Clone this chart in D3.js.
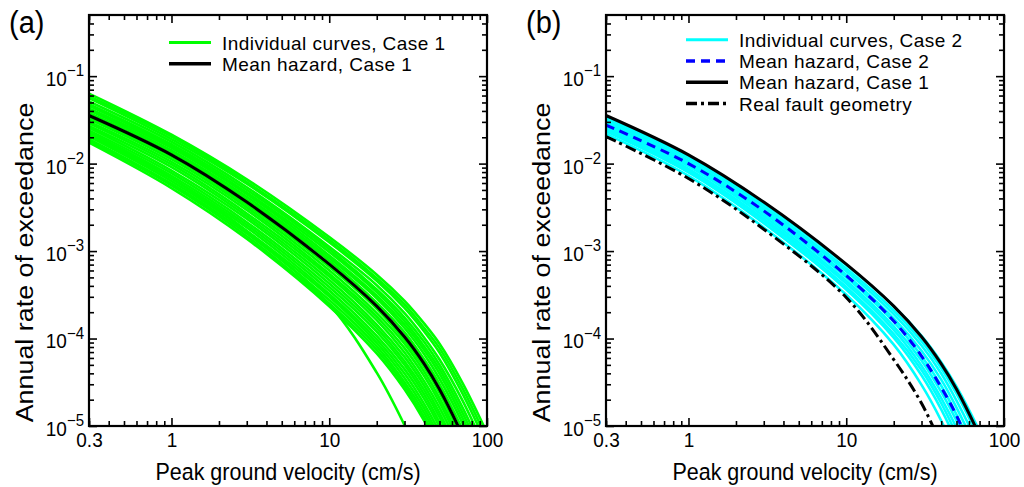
<!DOCTYPE html>
<html>
<head>
<meta charset="utf-8">
<script src="https://cdn.jsdelivr.net/npm/d3@7"></script>
<style>
body { margin: 0; background: #fff; }
text { font-family: "Liberation Sans", Arial, Helvetica, sans-serif; fill: #000; }
</style>
</head>
<body>
<svg id="chart" width="1024" height="487"></svg>
<script>
const pgv = [0.3, 1, 3, 10, 20, 30, 40, 50, 70, 100];

// all hazard values below are log10 of the annual rate of exceedance
const meanCase1 = [-1.45, -1.90, -2.44, -3.15, -3.63, -3.98, -4.29, -4.58, -5.11, -5.76];
const meanCase2 = [-1.56, -2.00, -2.54, -3.28, -3.80, -4.20, -4.56, -4.88, -5.51, -6.24];
const realFault = [-1.69, -2.17, -2.75, -3.53, -4.24, -4.74, -5.22, -5.66, -6.50, -7.50];

const curvesCase1 = [
	[-1.20, -1.67, -2.18, -2.84, -3.27, -3.57, -3.83, -4.06, -4.51, -5.08],
	[-1.23, -1.69, -2.21, -2.87, -3.31, -3.61, -3.88, -4.11, -4.57, -5.15],
	[-1.25, -1.72, -2.23, -2.90, -3.34, -3.65, -3.92, -4.16, -4.63, -5.22],
	[-1.29, -1.75, -2.27, -2.95, -3.39, -3.71, -3.99, -4.24, -4.71, -5.31],
	[-1.32, -1.78, -2.30, -2.98, -3.44, -3.76, -4.04, -4.30, -4.79, -5.39],
	[-1.34, -1.80, -2.33, -3.01, -3.47, -3.80, -4.09, -4.35, -4.85, -5.46],
	[-1.37, -1.82, -2.35, -3.05, -3.51, -3.84, -4.13, -4.40, -4.91, -5.53],
	[-1.39, -1.85, -2.38, -3.08, -3.54, -3.88, -4.18, -4.46, -4.97, -5.60],
	[-1.42, -1.87, -2.41, -3.11, -3.59, -3.93, -4.24, -4.52, -5.04, -5.68],
	[-1.47, -1.92, -2.47, -3.18, -3.66, -4.02, -4.33, -4.62, -5.16, -5.81],
	[-1.49, -1.95, -2.50, -3.22, -3.71, -4.06, -4.38, -4.68, -5.22, -5.88],
	[-1.52, -1.98, -2.53, -3.26, -3.75, -4.11, -4.43, -4.73, -5.28, -5.95],
	[-1.54, -2.01, -2.57, -3.29, -3.79, -4.16, -4.49, -4.79, -5.34, -6.02],
	[-1.57, -2.04, -2.60, -3.33, -3.84, -4.21, -4.54, -4.85, -5.41, -6.09],
	[-1.59, -2.08, -2.63, -3.37, -3.88, -4.26, -4.59, -4.90, -5.47, -6.16],
	[-1.62, -2.11, -2.67, -3.41, -3.92, -4.30, -4.64, -4.96, -5.53, -6.22],
	[-1.64, -2.14, -2.70, -3.45, -3.97, -4.35, -4.69, -5.01, -5.59, -6.29],
	[-1.67, -2.17, -2.73, -3.49, -4.01, -4.40, -4.75, -5.07, -5.66, -6.36],
	[-1.69, -2.20, -2.77, -3.52, -4.05, -4.45, -4.80, -5.13, -5.72, -6.43],
	[-1.72, -2.23, -2.80, -3.56, -4.09, -4.50, -4.85, -5.18, -5.78, -6.50],
	[-1.74, -2.25, -2.83, -3.60, -4.13, -4.54, -4.90, -5.23, -5.84, -6.56],
	[-1.76, -2.28, -2.86, -3.63, -4.17, -4.58, -4.94, -5.28, -5.89, -6.62],
	[-1.65, -2.17, -2.77, -3.61, -4.39, -4.99, -5.49, -5.93, -6.60, -7.40]
];

const curvesCase2 = [
	[-1.47, -1.92, -2.46, -3.16, -3.63, -3.97, -4.27, -4.55, -5.06, -5.69],
	[-1.49, -1.94, -2.49, -3.20, -3.68, -4.03, -4.34, -4.63, -5.16, -5.81],
	[-1.51, -1.97, -2.52, -3.23, -3.72, -4.08, -4.40, -4.71, -5.25, -5.92],
	[-1.53, -1.99, -2.54, -3.27, -3.77, -4.14, -4.47, -4.79, -5.35, -6.04],
	[-1.55, -2.01, -2.57, -3.30, -3.81, -4.20, -4.54, -4.87, -5.45, -6.15],
	[-1.57, -2.03, -2.60, -3.34, -3.86, -4.25, -4.61, -4.94, -5.54, -6.27],
	[-1.59, -2.06, -2.63, -3.37, -3.90, -4.31, -4.68, -5.02, -5.64, -6.38],
	[-1.61, -2.08, -2.65, -3.41, -3.95, -4.36, -4.74, -5.10, -5.73, -6.50],
	[-1.63, -2.10, -2.68, -3.44, -3.99, -4.42, -4.81, -5.18, -5.83, -6.61],
	[-1.66, -2.14, -2.73, -3.50, -4.07, -4.53, -4.94, -5.33, -6.01, -6.81]
];

const xTicks = [0.3, 1, 10, 100];
const yTicks = [1e-1, 1e-2, 1e-3, 1e-4, 1e-5];

// text in the figure is a bit taller than it is wide
const S = 1.1;
const W = 398, H = 411, TOP = 15;

let svg = d3.select("#chart");

let x = d3.scaleLog().domain([0.3, 100]).range([0, W]);
let y = d3.scaleLog().domain([1e-5, 0.5]).range([H, 0]);

// minor ticks of the log axes
let xMinor = [], yMinor = [];
[0.1, 1, 10].forEach(d => d3.range(2, 10).forEach(m => {
	let v = m * d;
	if (v > 0.3 && v < 100) xMinor.push(v);
}));
[1e-5, 1e-4, 1e-3, 1e-2, 1e-1].forEach(d => d3.range(2, 10).forEach(m => {
	let v = m * d;
	if (v < 0.5) yMinor.push(v);
}));

let line = d3.line()
	.x((d, i) => x(pgv[i]))
	.y(d => y(Math.pow(10, d)))
	.curve(d3.curveCatmullRom.alpha(0.5));

function axes(g) {
	let major = 8, minor = 5;
	let gb = g.append("g").attr("transform", `translate(0,${H})`)
		.call(d3.axisBottom(x).tickValues(xTicks).tickFormat(d3.format("")).tickSize(-major).tickSizeOuter(0).tickPadding(6));
	g.append("g").attr("transform", `translate(0,${H})`)
		.call(d3.axisBottom(x).tickValues(xMinor).tickFormat("").tickSize(-minor).tickSizeOuter(0));
	g.append("g")
		.call(d3.axisTop(x).tickValues(xTicks).tickFormat("").tickSize(-major).tickSizeOuter(0));
	g.append("g")
		.call(d3.axisTop(x).tickValues(xMinor).tickFormat("").tickSize(-minor).tickSizeOuter(0));

	let gl = g.append("g")
		.call(d3.axisLeft(y).tickValues(yTicks).tickFormat("").tickSize(-major).tickSizeOuter(0).tickPadding(5));
	g.append("g")
		.call(d3.axisLeft(y).tickValues(yMinor).tickFormat("").tickSize(-minor).tickSizeOuter(0));
	g.append("g").attr("transform", `translate(${W},0)`)
		.call(d3.axisRight(y).tickValues(yTicks).tickFormat("").tickSize(-major).tickSizeOuter(0));
	g.append("g").attr("transform", `translate(${W},0)`)
		.call(d3.axisRight(y).tickValues(yMinor).tickFormat("").tickSize(-minor).tickSizeOuter(0));

	g.selectAll(".domain").remove();
	g.selectAll(".tick line").attr("stroke", "#000").attr("stroke-width", 1.6);

	gb.selectAll(".tick text")
		.attr("font-size", 19)
		.attr("fill", "#000")
		.attr("transform", `scale(1,${S})`);

	gl.selectAll(".tick text").each(function(d) {
		let t = d3.select(this)
			.attr("font-size", 19)
			.attr("fill", "#000")
			.attr("dy", "0.45em")
			.attr("transform", `scale(1,${S})`);
		t.append("tspan").text("10");
		t.append("tspan").attr("font-size", 15).attr("dy", "-0.6em")
			.text("\u2212" + Math.round(-Math.log10(d)));
	});

	g.append("rect").attr("width", W).attr("height", H)
		.attr("fill", "none").attr("stroke", "#000").attr("stroke-width", 2.2);

	g.append("text")
		.attr("text-anchor", "middle")
		.attr("font-size", 21.5)
		.attr("transform", `translate(${W / 2},${H + 54}) scale(1,${S})`)
		.text("Peak ground velocity (cm/s)");
	g.append("text")
		.attr("text-anchor", "middle")
		.attr("font-size", 24)
		.attr("transform", `translate(-56,${H / 2 + 42}) rotate(-90) scale(1.12,1)`)
		.text("Annual rate of exceedance");
}

function legend(g, items, top, step) {
	items.forEach((it, i) => {
		let yy = top + i * step;
		g.append("line")
			.attr("x1", 80).attr("x2", 122)
			.attr("y1", yy - 7).attr("y2", yy - 7)
			.attr("stroke", it.color)
			.attr("stroke-width", it.width)
			.attr("stroke-dasharray", it.dash || null);
		g.append("text")
			.attr("x", 133).attr("y", yy)
			.attr("font-size", 19)
			.attr("letter-spacing", 0.45)
			.text(it.label);
	});
}

function panel(left, name, letter, draw, items, top, step) {
	let g = svg.append("g").attr("transform", `translate(${left},${TOP})`);
	g.append("clipPath").attr("id", "clip-" + name)
		.append("rect").attr("width", W).attr("height", H);
	let plot = g.append("g").attr("clip-path", `url(#clip-${name})`);
	draw(plot);
	axes(g);
	legend(g, items, top, step);
	svg.append("text")
		.attr("font-size", 29)
		.attr("transform", `translate(${left - 80},${TOP + 18}) scale(1,1.05)`)
		.text(letter);
}

// (a) case 1
panel(89, "a", "(a)", plot => {
	plot.selectAll(".ind").data(curvesCase1).join("path")
		.attr("class", "ind")
		.attr("d", line)
		.attr("fill", "none")
		.attr("stroke", "#00ff00")
		.attr("stroke-width", 2.6);
	plot.append("path").datum(meanCase1)
		.attr("d", line)
		.attr("fill", "none")
		.attr("stroke", "#000")
		.attr("stroke-width", 3);
}, [
	{label: "Individual curves, Case 1", color: "#00ff00", width: 3},
	{label: "Mean hazard, Case 1", color: "#000", width: 3.5}
], 34.5, 21.3);

// (b) case 2 against case 1 and the real fault
panel(606, "b", "(b)", plot => {
	plot.selectAll(".ind").data(curvesCase2).join("path")
		.attr("class", "ind")
		.attr("d", line)
		.attr("fill", "none")
		.attr("stroke", "#00ffff")
		.attr("stroke-width", 2.6);
	plot.append("path").datum(realFault)
		.attr("d", line)
		.attr("fill", "none")
		.attr("stroke", "#000")
		.attr("stroke-width", 3)
		.attr("stroke-dasharray", "11,4,3,4");
	plot.append("path").datum(meanCase1)
		.attr("d", line)
		.attr("fill", "none")
		.attr("stroke", "#000")
		.attr("stroke-width", 3);
	plot.append("path").datum(meanCase2)
		.attr("d", line)
		.attr("fill", "none")
		.attr("stroke", "#0000ff")
		.attr("stroke-width", 3)
		.attr("stroke-dasharray", "9,6");
}, [
	{label: "Individual curves, Case 2", color: "#00ffff", width: 3},
	{label: "Mean hazard, Case 2", color: "#0000ff", width: 3.5, dash: "9,6"},
	{label: "Mean hazard, Case 1", color: "#000", width: 3.5},
	{label: "Real fault geometry", color: "#000", width: 3.5, dash: "11,4,3,4"}
], 31.7, 21.3);
</script>
</body>
</html>
